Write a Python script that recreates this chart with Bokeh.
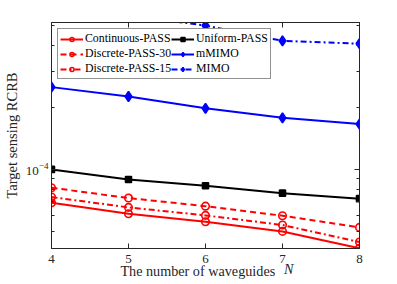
from bokeh.plotting import figure
from bokeh.models import (Range1d, LinearAxis, FixedTicker, LogTickFormatter,
                          CustomJSTickFormatter, Legend, LegendItem)
from bokeh.embed import file_html
from bokeh.resources import INLINE

# ---- data ----
N = [4, 5, 6, 7, 8]
continuous_pass = [6.89e-5, 6.09e-5, 5.57e-5, 5.00e-5, 4.14e-5]
discrete_pass_30 = [8.15e-5, 7.26e-5, 6.63e-5, 5.96e-5, 5.23e-5]
discrete_pass_15 = [7.34e-5, 6.54e-5, 5.98e-5, 5.37e-5, 4.44e-5]
uniform_pass = [1.00e-4, 8.94e-5, 8.33e-5, 7.67e-5, 7.21e-5]
mmimo = [2.51e-4, 2.26e-4, 1.98e-4, 1.78e-4, 1.66e-4]
mimo = [6.3e-4, 5.6e-4, 5.0e-4, 4.21e-4, 4.08e-4]

x_ticks = [4, 5, 6, 7, 8]
y_major = [1e-4]
y_minor = [5e-5, 6e-5, 7e-5, 8e-5, 9e-5, 2e-4, 3e-4, 4e-4, 5e-4]
y_lo, y_hi = 4.13e-5, 5.17e-4

x_label_text = "The number of waveguides"
x_label_var = "N"
x_label_text_pos = 5.90   # centre of the plain part of the x label (data units)
x_label_var_pos = 7.08    # centre of the italic N

FONT = "Liberation Serif"
AX = "#262626"

p = figure(frame_width=308, frame_height=226, y_axis_type="log",
           x_range=Range1d(4, 8), y_range=Range1d(y_lo, y_hi),
           output_backend="svg", toolbar_location=None,
           min_border_left=43, min_border_right=30,
           min_border_top=22, min_border_bottom=36)
p.xgrid.visible = False
p.ygrid.visible = False
p.outline_line_color = AX
p.outline_line_width = 1
p.background_fill_color = "white"
p.border_fill_color = "white"

xa = p.xaxis[0]
xa.ticker = FixedTicker(ticks=x_ticks, minor_ticks=[])
ya = p.yaxis[0]
ya.ticker = FixedTicker(ticks=y_major, minor_ticks=y_minor)
ya.formatter = LogTickFormatter(min_exponent=0)
ya.axis_label = "Target sensing RCRB"

for ax in (xa, ya):
    ax.axis_line_color = AX
    ax.major_tick_line_color = AX
    ax.minor_tick_line_color = AX
    ax.major_tick_in = 5
    ax.major_tick_out = 0
    ax.minor_tick_in = 3
    ax.minor_tick_out = 0
    ax.major_label_text_font = FONT
    ax.major_label_text_font_size = "13px"
    ax.major_label_text_color = AX
    ax.axis_label_text_font = FONT
    ax.axis_label_text_font_size = "14.5px"
    ax.axis_label_text_font_style = "normal"
    ax.axis_label_text_color = AX
xa.major_label_standoff = 6
ya.axis_label_standoff = 3
ya.major_label_standoff = 3

# mirrored axes (top/right) with inward ticks only, no labels
blank = CustomJSTickFormatter(code="return ''")
top = LinearAxis(ticker=FixedTicker(ticks=x_ticks, minor_ticks=[]), formatter=blank)
right = LinearAxis(ticker=FixedTicker(ticks=y_major, minor_ticks=y_minor), formatter=blank)
for ax in (top, right):
    ax.axis_line_color = AX
    ax.major_tick_line_color = AX
    ax.minor_tick_line_color = AX
    ax.major_tick_in = 5
    ax.major_tick_out = 0
    ax.minor_tick_in = 3
    ax.minor_tick_out = 0
    ax.major_label_standoff = 0
    ax.major_label_text_font_size = "1px"
p.add_layout(top, "above")
p.add_layout(right, "right")

# x-axis title: plain part + italic N, drawn as label-only axes under the main x axis
def label_axis(pos, text, style, standoff):
    a = LinearAxis(ticker=FixedTicker(ticks=[pos], minor_ticks=[]),
                   major_label_overrides={pos: text})
    a.axis_line_color = None
    a.major_tick_line_color = None
    a.minor_tick_line_color = None
    a.major_tick_in = 0
    a.major_tick_out = 0
    a.major_label_text_font = FONT
    a.major_label_text_font_size = "14.2px"
    a.major_label_text_font_style = style
    a.major_label_text_color = AX
    a.major_label_standoff = standoff
    p.add_layout(a, "below")
    return a

label_axis(x_label_text_pos, x_label_text, "normal", -3)
label_axis(x_label_var_pos, x_label_var, "italic", -21)

LW = 2

def series(y, color, dash, marker, size, fill):
    r1 = p.line(N, y, line_color=color, line_width=LW, line_dash=dash)
    r2 = p.scatter(N, y, marker=marker, size=size, line_color=color, line_width=1.6,
                   fill_color=fill)
    return [r1, r2]

r_cont = series(continuous_pass, "#ff0000", "solid", "circle", 7.5, None)
r_d30 = series(discrete_pass_30, "#ff0000", "6 4", "circle", 7.5, None)
r_d15 = series(discrete_pass_15, "#ff0000", "6 3 2 3", "circle", 7.5, None)
r_uni = series(uniform_pass, "#000000", "solid", "square", 6, "#000000")
r_mm = series(mmimo, "#0000ff", "solid", "diamond", 10, "#0000ff")
r_mimo = series(mimo, "#0000ff", "6 3 2 3", "diamond", 10, "#0000ff")

legend = Legend(items=[
    LegendItem(label="Continuous-PASS", renderers=r_cont),
    LegendItem(label="Discrete-PASS-30", renderers=r_d30),
    LegendItem(label="Discrete-PASS-15", renderers=r_d15),
    LegendItem(label="Uniform-PASS", renderers=r_uni),
    LegendItem(label="mMIMO", renderers=r_mm),
    LegendItem(label="MIMO", renderers=r_mimo),
], location="top_left", orientation="vertical", nrows=3)
legend.label_text_font = FONT
legend.label_text_font_size = "11.8px"
legend.label_text_color = "#000000"
legend.border_line_color = AX
legend.border_line_width = 1
legend.background_fill_color = "white"
legend.background_fill_alpha = 1
legend.glyph_width = 23
legend.glyph_height = 10
legend.label_height = 10
legend.label_standoff = 2
legend.spacing = 0
legend.padding = 2
legend.margin = 6
p.add_layout(legend, "center")

open("out.html", "w").write(file_html(p, INLINE))
